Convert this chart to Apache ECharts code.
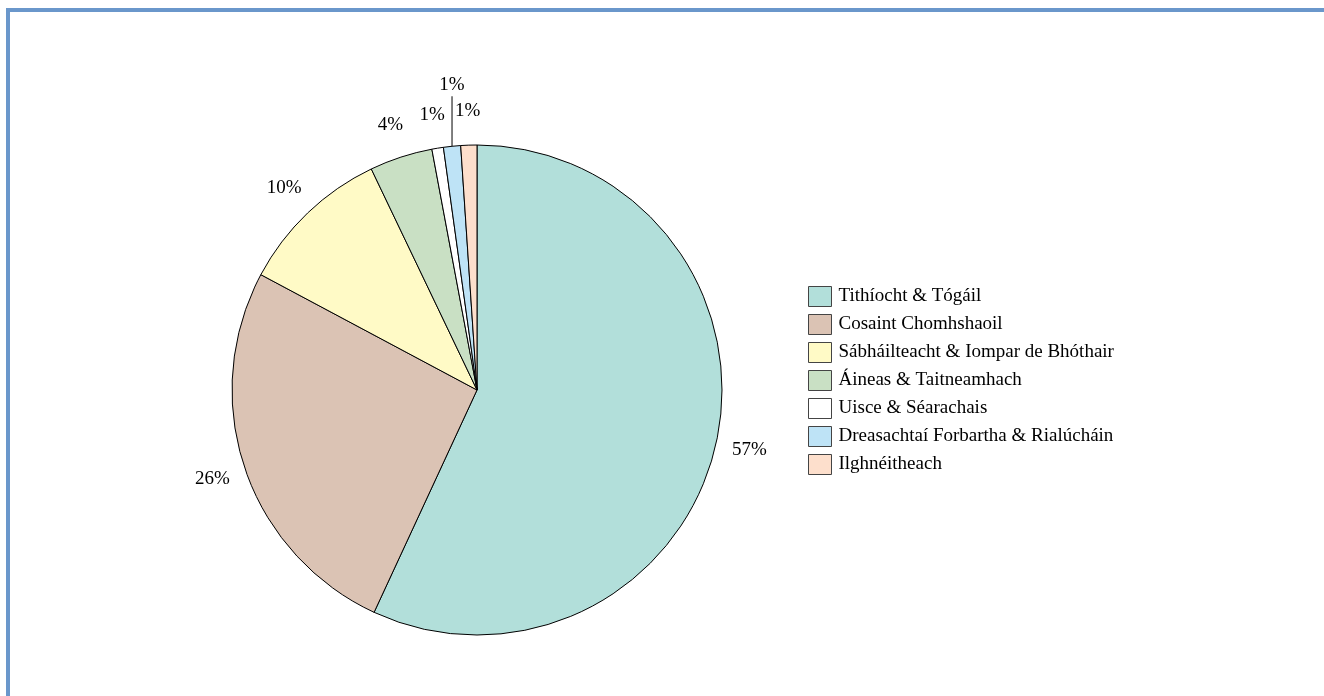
<!DOCTYPE html>
<html>
<head>
<meta charset="utf-8">
<script src="https://cdn.jsdelivr.net/npm/echarts@6/dist/echarts.min.js"></script>
<style>
  html, body { margin: 0; padding: 0; background: #fff; overflow: hidden; }
  #frame {
    position: absolute; left: 6px; top: 8px; width: 1400px; height: 800px;
    border-left: 4px solid #6a97cb; border-top: 4px solid #6a97cb;
  }
  #main { position: absolute; left: 0; top: 0; width: 1324px; height: 696px; }
</style>
</head>
<body>
<div id="frame"></div>
<div id="main"></div>
<script>
// categories, in drawing order (clockwise from the top)
const categories = [
  'Tithíocht & Tógáil',
  'Cosaint Chomhshaoil',
  'Sábháilteacht & Iompar de Bhóthair',
  'Áineas & Taitneamhach',
  'Uisce & Séarachais',
  'Dreasachtaí Forbartha & Rialúcháin',
  'Ilghnéitheach'
]
// share of the total
const values = [56.9, 25.9, 10.1, 4.15, 0.76, 1.13, 1.06]
const colors = ['#b2dfda', '#dbc3b4', '#fffac6', '#c9e0c4', '#ffffff', '#bee3f6', '#fddfcc']

const serif = '"Liberation Serif", "DejaVu Serif", serif'

const chart = echarts.init(document.getElementById('main'))

chart.setOption({
  animation: false,
  legend: {
    orient: 'vertical',
    left: 803,
    top: 281,
    icon: 'rect',
    itemWidth: 23,
    itemHeight: 20,
    itemGap: 7,
    itemStyle: {
      borderColor: '#444',
      borderWidth: 1
    },
    textStyle: {
      fontFamily: serif,
      fontSize: 19,
      color: '#000',
      padding: [0, 0, 0, 2]
    },
    data: categories
  },
  series: [{
    type: 'pie',
    center: [477, 390],
    radius: 245,
    startAngle: 90,
    clockwise: true,
    avoidLabelOverlap: false,
    itemStyle: {
      borderColor: '#000',
      borderWidth: 1
    },
    label: {
      show: true,
      position: 'outside',
      distanceToLabelLine: 0,
      fontFamily: serif,
      fontSize: 19,
      color: '#000',
      formatter: p => Math.max(1, Math.round(p.value)) + '%'
    },
    labelLine: {
      show: false,
      length: 34,
      length2: 0,
      lineStyle: { color: '#000', width: 1 }
    },
    labelLayout (params) {
      const pts = params.labelLinePoints
      if (params.dataIndex === 5 && pts) {
        // this one sits on a vertical leader above its slice
        const x0 = pts[0][0]
        const y0 = pts[0][1]
        return {
          x: x0,
          y: y0 - 52,
          align: 'center',
          verticalAlign: 'bottom',
          labelLinePoints: [[x0, y0], [x0, y0 - 50], [x0, y0 - 50]]
        }
      }
      return { align: 'center', verticalAlign: 'middle' }
    },
    emphasis: { disabled: true },
    data: categories.map((name, i) => ({
      name,
      value: values[i],
      itemStyle: { color: colors[i] },
      labelLine: i === 5 ? { show: true, length: 50, length2: 0 } : undefined
    }))
  }]
})
</script>
</body>
</html>
